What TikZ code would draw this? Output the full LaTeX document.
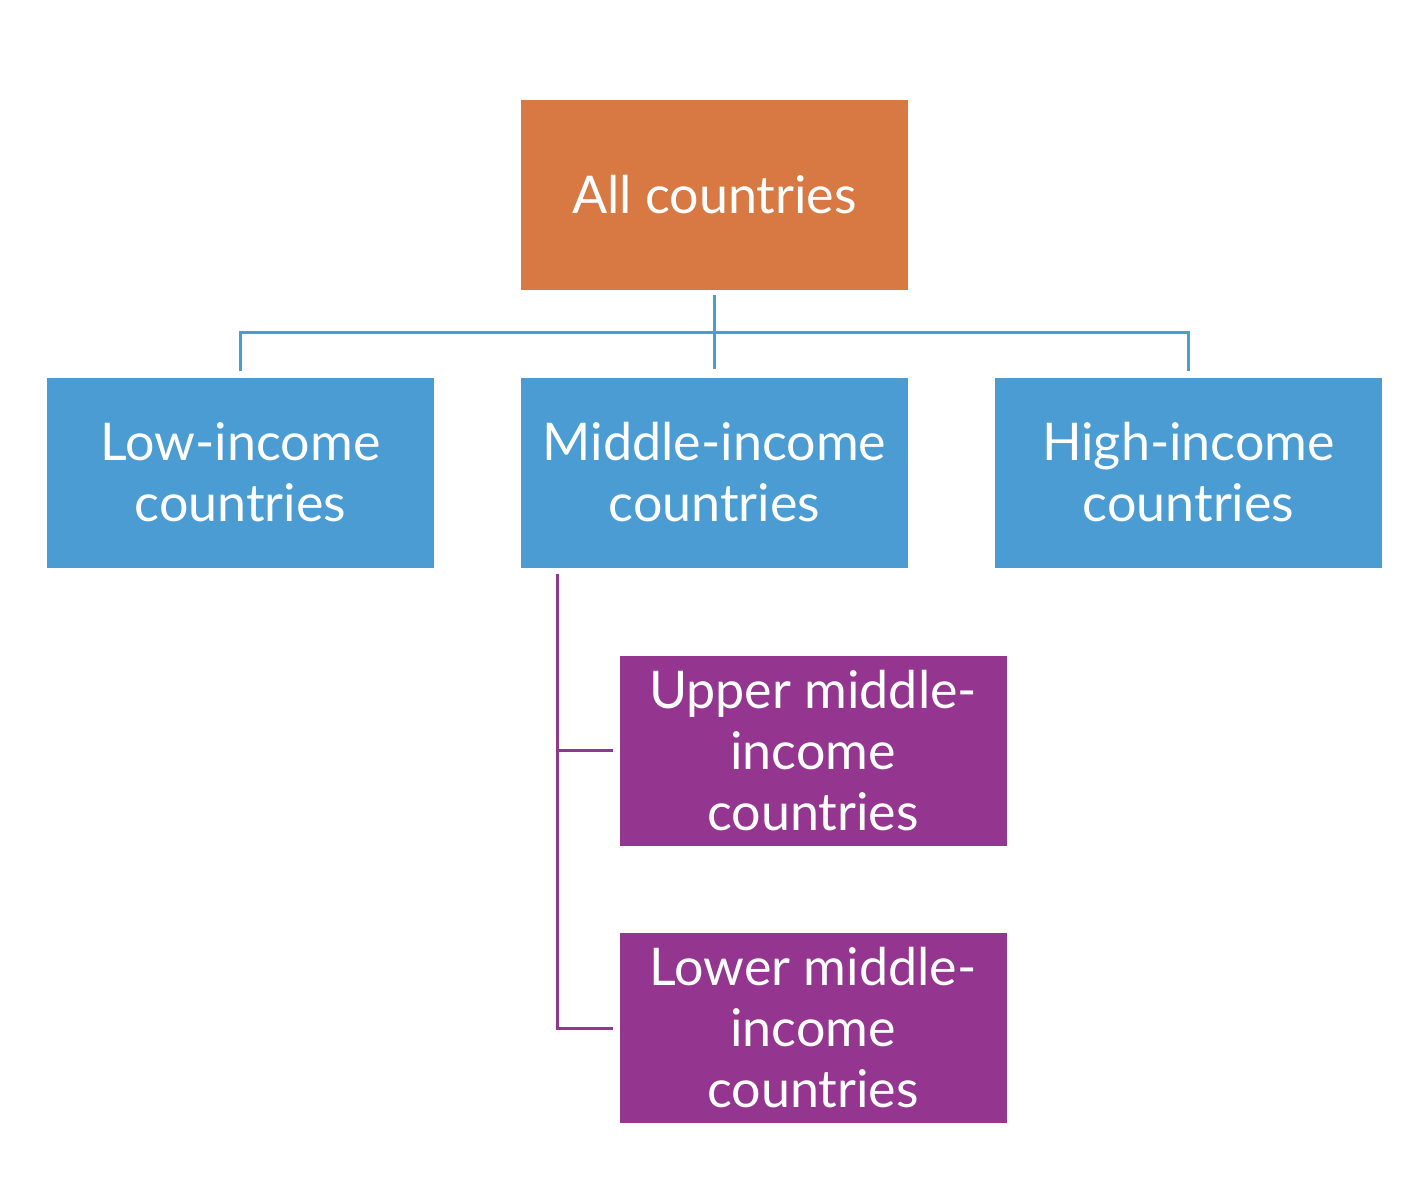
\documentclass[tikz,border=0pt]{standalone}
\usepackage{fontspec}
\setmainfont{Lato}
\definecolor{boxorange}{HTML}{D87843}
\definecolor{boxblue}{HTML}{4A9CD2}
\definecolor{boxpurple}{HTML}{943590}
\begin{document}
\begin{tikzpicture}[x=1pt,y=-1pt,
  box/.style={minimum width=387pt,minimum height=190pt,inner sep=0pt,align=center,text=white,
    font=\fontsize{52}{61}\selectfont},
  bluebox/.style={box,fill=boxblue},
  blueline/.style={draw=boxblue,line width=3pt},
  purpleline/.style={draw=boxpurple,line width=3pt}]
\useasboundingbox (0,0) rectangle (1415,1200);
\node[box,fill=boxorange] (all) at (714.5,195) {All countries};
\node[bluebox] (low) at (240.5,472.5) {Low-income\\countries};
\node[bluebox] (mid) at (714.5,472.5) {Middle-income\\countries};
\node[bluebox] (high) at (1188.5,472.5) {High-income\\countries};
\node[box,fill=boxpurple] (upper) at (813,750.5) {Upper middle-\\income\\countries};
\node[box,fill=boxpurple] (lower) at (813,1028) {Lower middle-\\income\\countries};
\draw[blueline] ([yshift=-5pt]all.south) -- ([yshift=8pt]mid.north);
\draw[blueline] ([yshift=6pt]low.north) -- ++(0,-39) -| ([yshift=6pt]high.north);
\coordinate (trunk) at ([xshift=37pt,yshift=-6pt]mid.south west);
\draw[purpleline] (trunk) |- ([xshift=-6pt]lower.west);
\draw[purpleline] (trunk |- upper.west) -- ([xshift=-6pt]upper.west);
\end{tikzpicture}
\end{document}
